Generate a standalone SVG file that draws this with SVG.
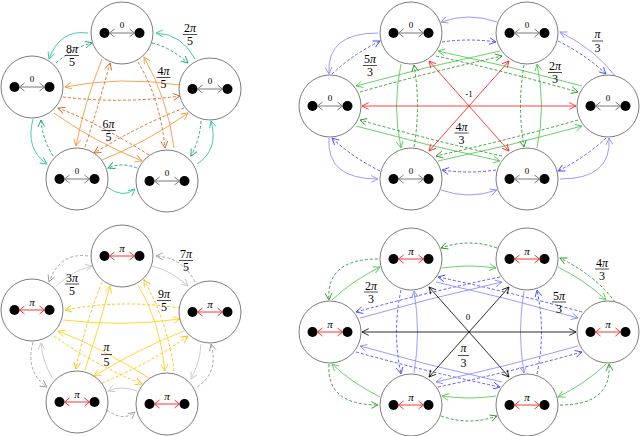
<svg xmlns="http://www.w3.org/2000/svg" width="640" height="436" viewBox="0 0 640 436">
<style>
.nd{fill:#fff;stroke:#6e6e6e;stroke-width:0.9}
.dt{fill:#000}
.ga{fill:none;stroke:#6a6a6a;stroke-width:0.9}
.ra{fill:none;stroke:#ee2020;stroke-width:0.9}
.nz{font-family:"Liberation Serif",serif;font-size:9px;text-anchor:middle;fill:#000}
.np{font-family:"Liberation Serif",serif;font-style:italic;font-size:11px;text-anchor:middle;fill:#000}
.e{fill:none;stroke-width:0.9}
.lab{font-family:"Liberation Serif",serif;font-size:12px;text-anchor:middle;fill:#000}
.it{font-style:italic}
.bar{stroke:#000;stroke-width:0.7;fill:none}
.ts{stroke:#2ec8a6;marker-end:url(#mts)}
.td{stroke:#14a07c;stroke-dasharray:3 2;marker-end:url(#mtd)}
.os{stroke:#fb9a3c;marker-end:url(#mos)}
.od{stroke:#e0621c;stroke-dasharray:3 2;marker-end:url(#mod)}
.bs{stroke:#9090ff;marker-end:url(#mbs)}
.bd{stroke:#4a4aff;stroke-dasharray:3 2;marker-end:url(#mbd)}
.gs{stroke:#5acb5a;marker-end:url(#mgs)}
.gd{stroke:#2a9a2a;stroke-dasharray:3 2;marker-end:url(#mgd)}
.rd{stroke:#ff2a2a;marker-start:url(#mrd);marker-end:url(#mrd)}
.kd{stroke:#151515;marker-start:url(#mkd);marker-end:url(#mkd)}
.ys{stroke:#ffd31c;marker-end:url(#mys)}
.yd{stroke:#f7c100;stroke-dasharray:3 2;marker-end:url(#myd)}
.hs{stroke:#c8c8c8;marker-end:url(#mhs)}
.hd{stroke:#9c9c9c;stroke-dasharray:3 2;marker-end:url(#mhd)}
</style>
<defs>
<marker id="mts" viewBox="0 0 8 8" refX="7.2" refY="4" markerWidth="8" markerHeight="8" markerUnits="userSpaceOnUse" orient="auto-start-reverse"><path d="M0.5,0.6L7.2,4L0.5,7.4" fill="none" stroke="#2ec8a6" stroke-width="0.9"/></marker>
<marker id="mtd" viewBox="0 0 8 8" refX="7.2" refY="4" markerWidth="8" markerHeight="8" markerUnits="userSpaceOnUse" orient="auto-start-reverse"><path d="M0.5,0.6L7.2,4L0.5,7.4" fill="none" stroke="#14a07c" stroke-width="0.9"/></marker>
<marker id="mos" viewBox="0 0 8 8" refX="7.2" refY="4" markerWidth="8" markerHeight="8" markerUnits="userSpaceOnUse" orient="auto-start-reverse"><path d="M0.5,0.6L7.2,4L0.5,7.4" fill="none" stroke="#fb9a3c" stroke-width="0.9"/></marker>
<marker id="mod" viewBox="0 0 8 8" refX="7.2" refY="4" markerWidth="8" markerHeight="8" markerUnits="userSpaceOnUse" orient="auto-start-reverse"><path d="M0.5,0.6L7.2,4L0.5,7.4" fill="none" stroke="#e0621c" stroke-width="0.9"/></marker>
<marker id="mbs" viewBox="0 0 8 8" refX="7.2" refY="4" markerWidth="8" markerHeight="8" markerUnits="userSpaceOnUse" orient="auto-start-reverse"><path d="M0.5,0.6L7.2,4L0.5,7.4" fill="none" stroke="#9090ff" stroke-width="0.9"/></marker>
<marker id="mbd" viewBox="0 0 8 8" refX="7.2" refY="4" markerWidth="8" markerHeight="8" markerUnits="userSpaceOnUse" orient="auto-start-reverse"><path d="M0.5,0.6L7.2,4L0.5,7.4" fill="none" stroke="#4a4aff" stroke-width="0.9"/></marker>
<marker id="mgs" viewBox="0 0 8 8" refX="7.2" refY="4" markerWidth="8" markerHeight="8" markerUnits="userSpaceOnUse" orient="auto-start-reverse"><path d="M0.5,0.6L7.2,4L0.5,7.4" fill="none" stroke="#5acb5a" stroke-width="0.9"/></marker>
<marker id="mgd" viewBox="0 0 8 8" refX="7.2" refY="4" markerWidth="8" markerHeight="8" markerUnits="userSpaceOnUse" orient="auto-start-reverse"><path d="M0.5,0.6L7.2,4L0.5,7.4" fill="none" stroke="#2a9a2a" stroke-width="0.9"/></marker>
<marker id="mrd" viewBox="0 0 8 8" refX="7.2" refY="4" markerWidth="8" markerHeight="8" markerUnits="userSpaceOnUse" orient="auto-start-reverse"><path d="M0.5,0.6L7.2,4L0.5,7.4" fill="none" stroke="#ff2a2a" stroke-width="0.9"/></marker>
<marker id="mkd" viewBox="0 0 8 8" refX="7.2" refY="4" markerWidth="8" markerHeight="8" markerUnits="userSpaceOnUse" orient="auto-start-reverse"><path d="M0.5,0.6L7.2,4L0.5,7.4" fill="none" stroke="#151515" stroke-width="0.9"/></marker>
<marker id="mys" viewBox="0 0 8 8" refX="7.2" refY="4" markerWidth="8" markerHeight="8" markerUnits="userSpaceOnUse" orient="auto-start-reverse"><path d="M0.5,0.6L7.2,4L0.5,7.4" fill="none" stroke="#ffd31c" stroke-width="0.9"/></marker>
<marker id="myd" viewBox="0 0 8 8" refX="7.2" refY="4" markerWidth="8" markerHeight="8" markerUnits="userSpaceOnUse" orient="auto-start-reverse"><path d="M0.5,0.6L7.2,4L0.5,7.4" fill="none" stroke="#f7c100" stroke-width="0.9"/></marker>
<marker id="mhs" viewBox="0 0 8 8" refX="7.2" refY="4" markerWidth="8" markerHeight="8" markerUnits="userSpaceOnUse" orient="auto-start-reverse"><path d="M0.5,0.6L7.2,4L0.5,7.4" fill="none" stroke="#c8c8c8" stroke-width="0.9"/></marker>
<marker id="mhd" viewBox="0 0 8 8" refX="7.2" refY="4" markerWidth="8" markerHeight="8" markerUnits="userSpaceOnUse" orient="auto-start-reverse"><path d="M0.5,0.6L7.2,4L0.5,7.4" fill="none" stroke="#9c9c9c" stroke-width="0.9"/></marker>
</defs>
<rect width="640" height="436" fill="#fff"/>

<g id="connectors">
<g id="p1-edges">
<path class="e ts" d="M195,59 Q182,34 156,33"/>
<path class="e ts" d="M88,33 Q60,29 49,59"/>
<path class="e ts" d="M33,119 Q25,149 47,164"/>
<path class="e ts" d="M107,187 Q123,199 135,189"/>
<path class="e ts" d="M197,164 Q219,150 211,121"/>
<path class="e td" d="M152,43 Q170,47 188,63"/>
<path class="e td" d="M56,63 Q74,47 92,43"/>
<path class="e td" d="M53,156 Q42,138 41,120"/>
<path class="e td" d="M137,168 Q122,162 108,168"/>
<path class="e td" d="M201,121 Q200,139 191,156"/>
<path class="e os" d="M180,85 Q120,76 65,87"/>
<path class="e os" d="M102,59 Q84,104 76,146"/>
<path class="e os" d="M174,148 Q168,100 144,57"/>
<path class="e os" d="M54,113 Q95,142 142,161"/>
<path class="e os" d="M102,160 Q147,142 188,113"/>
<path class="e od" d="M63,97 Q122,104 180,96"/>
<path class="e od" d="M85,147 Q99,104 110,63"/>
<path class="e od" d="M138,62 Q160,98 165,148"/>
<path class="e od" d="M149,155 Q100,124 58,108"/>
<path class="e od" d="M184,108 Q142,124 94,153"/>
</g>
<g id="p3-edges" transform="translate(0,223)">
<path class="e hd" d="M195,59 Q182,34 156,33"/>
<path class="e hd" d="M88,33 Q60,29 49,59"/>
<path class="e hd" d="M33,119 Q25,149 47,164"/>
<path class="e hd" d="M107,187 Q123,199 135,189"/>
<path class="e hd" d="M197,164 Q219,150 211,121"/>
<path class="e hs" d="M152,43 Q170,47 188,63"/>
<path class="e hs" d="M56,63 Q74,47 92,43"/>
<path class="e hs" d="M53,156 Q42,138 41,120"/>
<path class="e hs" d="M137,168 Q122,162 108,168"/>
<path class="e hs" d="M201,121 Q200,139 191,156"/>
<path class="e yd" d="M180,85 Q120,76 65,87"/>
<path class="e yd" d="M102,59 Q84,104 76,146"/>
<path class="e yd" d="M174,148 Q168,100 144,57"/>
<path class="e yd" d="M54,113 Q95,142 142,161"/>
<path class="e yd" d="M102,160 Q147,142 188,113"/>
<path class="e ys" d="M63,97 Q122,104 180,96"/>
<path class="e ys" d="M85,147 Q99,104 110,63"/>
<path class="e ys" d="M138,62 Q160,98 165,148"/>
<path class="e ys" d="M149,155 Q100,124 58,108"/>
<path class="e ys" d="M184,108 Q142,124 94,153"/>
</g>
<g id="p2-edges">
<path class="e bs" d="M497,22 Q469,12 441,22"/>
<path class="e bs" d="M441,190 Q469,200 497,190"/>
<path class="e bs" d="M615,76 Q596,50 560,32"/>
<path class="e bs" d="M378,33 Q326,33 329,74"/>
<path class="e bs" d="M329,138 Q326,179 378,179"/>
<path class="e bs" d="M560,179 Q612,179 609,138"/>
<path class="e bd" d="M442,42 Q469,38 496,42"/>
<path class="e bd" d="M496,170 Q469,174 442,170"/>
<path class="e bd" d="M558,41 Q586,55 606,74"/>
<path class="e bd" d="M332,74 Q352,55 380,41"/>
<path class="e bd" d="M606,138 Q586,157 558,171"/>
<path class="e bd" d="M380,171 Q352,157 332,138"/>
<path class="e gs" d="M401,64 Q392,106 401,148"/>
<path class="e gs" d="M537,148 Q546,106 537,64"/>
<path class="e gs" d="M582,86 Q510,66 438,51"/>
<path class="e gs" d="M500,51 Q428,66 356,86"/>
<path class="e gs" d="M438,161 Q510,146 582,126"/>
<path class="e gs" d="M356,126 Q428,146 500,161"/>
<path class="e gd" d="M414,147 Q421,106 414,65"/>
<path class="e gd" d="M524,65 Q517,106 524,147"/>
<path class="e gd" d="M436,56 Q508,72 578,92"/>
<path class="e gd" d="M360,92 Q430,72 502,56"/>
<path class="e gd" d="M578,120 Q508,140 436,156"/>
<path class="e gd" d="M502,156 Q430,140 360,120"/>
<path class="e rd" d="M362,106 L576,106"/>
<path class="e rd" d="M429,61 L509,151"/>
<path class="e rd" d="M509,61 L429,151"/>
</g>
<g id="p4-edges" transform="translate(0,226)">
<path class="e gd" d="M497,22 Q469,12 441,22"/>
<path class="e gd" d="M441,190 Q469,200 497,190"/>
<path class="e gd" d="M615,76 Q596,50 560,32"/>
<path class="e gd" d="M378,33 Q326,33 329,74"/>
<path class="e gd" d="M329,138 Q326,179 378,179"/>
<path class="e gd" d="M560,179 Q612,179 609,138"/>
<path class="e gs" d="M442,42 Q469,38 496,42"/>
<path class="e gs" d="M496,170 Q469,174 442,170"/>
<path class="e gs" d="M558,41 Q586,55 606,74"/>
<path class="e gs" d="M332,74 Q352,55 380,41"/>
<path class="e gs" d="M606,138 Q586,157 558,171"/>
<path class="e gs" d="M380,171 Q352,157 332,138"/>
<path class="e bd" d="M401,64 Q392,106 401,148"/>
<path class="e bd" d="M537,148 Q546,106 537,64"/>
<path class="e bd" d="M582,86 Q510,66 438,51"/>
<path class="e bd" d="M500,51 Q428,66 356,86"/>
<path class="e bd" d="M438,161 Q510,146 582,126"/>
<path class="e bd" d="M356,126 Q428,146 500,161"/>
<path class="e bs" d="M414,147 Q421,106 414,65"/>
<path class="e bs" d="M524,65 Q517,106 524,147"/>
<path class="e bs" d="M436,56 Q508,72 578,92"/>
<path class="e bs" d="M360,92 Q430,72 502,56"/>
<path class="e bs" d="M578,120 Q508,140 436,156"/>
<path class="e bs" d="M502,156 Q430,140 360,120"/>
<path class="e kd" d="M362,106 L576,106"/>
<path class="e kd" d="M429,61 L509,151"/>
<path class="e kd" d="M509,61 L429,151"/>
</g>
</g>

<g id="p1-n0" transform="translate(122,33)"><circle class="nd" r="31"/><circle class="dt" cx="-17.5" r="5"/><circle class="dt" cx="17.5" r="5"/><path class="ga" d="M-12.5,0H12.5M-7.5,-4L-12.5,0L-7.5,4M7.5,-4L12.5,0L7.5,4"/><text class="nz" y="-5.5">0</text></g>
<g id="p1-n1" transform="translate(210,89)"><circle class="nd" r="31"/><circle class="dt" cx="-17.5" r="5"/><circle class="dt" cx="17.5" r="5"/><path class="ga" d="M-12.5,0H12.5M-7.5,-4L-12.5,0L-7.5,4M7.5,-4L12.5,0L7.5,4"/><text class="nz" y="-5.5">0</text></g>
<g id="p1-n2" transform="translate(167,181)"><circle class="nd" r="31"/><circle class="dt" cx="-17.5" r="5"/><circle class="dt" cx="17.5" r="5"/><path class="ga" d="M-12.5,0H12.5M-7.5,-4L-12.5,0L-7.5,4M7.5,-4L12.5,0L7.5,4"/><text class="nz" y="-5.5">0</text></g>
<g id="p1-n3" transform="translate(77,179)"><circle class="nd" r="31"/><circle class="dt" cx="-17.5" r="5"/><circle class="dt" cx="17.5" r="5"/><path class="ga" d="M-12.5,0H12.5M-7.5,-4L-12.5,0L-7.5,4M7.5,-4L12.5,0L7.5,4"/><text class="nz" y="-5.5">0</text></g>
<g id="p1-n4" transform="translate(32,87)"><circle class="nd" r="31"/><circle class="dt" cx="-17.5" r="5"/><circle class="dt" cx="17.5" r="5"/><path class="ga" d="M-12.5,0H12.5M-7.5,-4L-12.5,0L-7.5,4M7.5,-4L12.5,0L7.5,4"/><text class="nz" y="-5.5">0</text></g>

<g id="p2-n0" transform="translate(411,33)"><circle class="nd" r="31"/><circle class="dt" cx="-17.5" r="5"/><circle class="dt" cx="17.5" r="5"/><path class="ga" d="M-12.5,0H12.5M-7.5,-4L-12.5,0L-7.5,4M7.5,-4L12.5,0L7.5,4"/><text class="nz" y="-5.5">0</text></g>
<g id="p2-n1" transform="translate(527,33)"><circle class="nd" r="31"/><circle class="dt" cx="-17.5" r="5"/><circle class="dt" cx="17.5" r="5"/><path class="ga" d="M-12.5,0H12.5M-7.5,-4L-12.5,0L-7.5,4M7.5,-4L12.5,0L7.5,4"/><text class="nz" y="-5.5">0</text></g>
<g id="p2-n2" transform="translate(608,106)"><circle class="nd" r="31"/><circle class="dt" cx="-17.5" r="5"/><circle class="dt" cx="17.5" r="5"/><path class="ga" d="M-12.5,0H12.5M-7.5,-4L-12.5,0L-7.5,4M7.5,-4L12.5,0L7.5,4"/><text class="nz" y="-5.5">0</text></g>
<g id="p2-n3" transform="translate(527,179)"><circle class="nd" r="31"/><circle class="dt" cx="-17.5" r="5"/><circle class="dt" cx="17.5" r="5"/><path class="ga" d="M-12.5,0H12.5M-7.5,-4L-12.5,0L-7.5,4M7.5,-4L12.5,0L7.5,4"/><text class="nz" y="-5.5">0</text></g>
<g id="p2-n4" transform="translate(411,179)"><circle class="nd" r="31"/><circle class="dt" cx="-17.5" r="5"/><circle class="dt" cx="17.5" r="5"/><path class="ga" d="M-12.5,0H12.5M-7.5,-4L-12.5,0L-7.5,4M7.5,-4L12.5,0L7.5,4"/><text class="nz" y="-5.5">0</text></g>
<g id="p2-n5" transform="translate(330,106)"><circle class="nd" r="31"/><circle class="dt" cx="-17.5" r="5"/><circle class="dt" cx="17.5" r="5"/><path class="ga" d="M-12.5,0H12.5M-7.5,-4L-12.5,0L-7.5,4M7.5,-4L12.5,0L7.5,4"/><text class="nz" y="-5.5">0</text></g>

<g id="p3-n0" transform="translate(122,256)"><circle class="nd" r="31"/><circle class="dt" cx="-17.5" r="5"/><circle class="dt" cx="17.5" r="5"/><path class="ra" d="M-12.5,0H12.5M-7.5,-4L-12.5,0L-7.5,4M7.5,-4L12.5,0L7.5,4"/><text class="np" y="-4">π</text></g>
<g id="p3-n1" transform="translate(210,312)"><circle class="nd" r="31"/><circle class="dt" cx="-17.5" r="5"/><circle class="dt" cx="17.5" r="5"/><path class="ra" d="M-12.5,0H12.5M-7.5,-4L-12.5,0L-7.5,4M7.5,-4L12.5,0L7.5,4"/><text class="np" y="-4">π</text></g>
<g id="p3-n2" transform="translate(167,404)"><circle class="nd" r="31"/><circle class="dt" cx="-17.5" r="5"/><circle class="dt" cx="17.5" r="5"/><path class="ra" d="M-12.5,0H12.5M-7.5,-4L-12.5,0L-7.5,4M7.5,-4L12.5,0L7.5,4"/><text class="np" y="-4">π</text></g>
<g id="p3-n3" transform="translate(77,402)"><circle class="nd" r="31"/><circle class="dt" cx="-17.5" r="5"/><circle class="dt" cx="17.5" r="5"/><path class="ra" d="M-12.5,0H12.5M-7.5,-4L-12.5,0L-7.5,4M7.5,-4L12.5,0L7.5,4"/><text class="np" y="-4">π</text></g>
<g id="p3-n4" transform="translate(32,310)"><circle class="nd" r="31"/><circle class="dt" cx="-17.5" r="5"/><circle class="dt" cx="17.5" r="5"/><path class="ra" d="M-12.5,0H12.5M-7.5,-4L-12.5,0L-7.5,4M7.5,-4L12.5,0L7.5,4"/><text class="np" y="-4">π</text></g>

<g id="p4-n0" transform="translate(411,259)"><circle class="nd" r="31"/><circle class="dt" cx="-17.5" r="5"/><circle class="dt" cx="17.5" r="5"/><path class="ra" d="M-12.5,0H12.5M-7.5,-4L-12.5,0L-7.5,4M7.5,-4L12.5,0L7.5,4"/><text class="np" y="-4">π</text></g>
<g id="p4-n1" transform="translate(527,259)"><circle class="nd" r="31"/><circle class="dt" cx="-17.5" r="5"/><circle class="dt" cx="17.5" r="5"/><path class="ra" d="M-12.5,0H12.5M-7.5,-4L-12.5,0L-7.5,4M7.5,-4L12.5,0L7.5,4"/><text class="np" y="-4">π</text></g>
<g id="p4-n2" transform="translate(608,332)"><circle class="nd" r="31"/><circle class="dt" cx="-17.5" r="5"/><circle class="dt" cx="17.5" r="5"/><path class="ra" d="M-12.5,0H12.5M-7.5,-4L-12.5,0L-7.5,4M7.5,-4L12.5,0L7.5,4"/><text class="np" y="-4">π</text></g>
<g id="p4-n3" transform="translate(527,405)"><circle class="nd" r="31"/><circle class="dt" cx="-17.5" r="5"/><circle class="dt" cx="17.5" r="5"/><path class="ra" d="M-12.5,0H12.5M-7.5,-4L-12.5,0L-7.5,4M7.5,-4L12.5,0L7.5,4"/><text class="np" y="-4">π</text></g>
<g id="p4-n4" transform="translate(411,405)"><circle class="nd" r="31"/><circle class="dt" cx="-17.5" r="5"/><circle class="dt" cx="17.5" r="5"/><path class="ra" d="M-12.5,0H12.5M-7.5,-4L-12.5,0L-7.5,4M7.5,-4L12.5,0L7.5,4"/><text class="np" y="-4">π</text></g>
<g id="p4-n5" transform="translate(330,332)"><circle class="nd" r="31"/><circle class="dt" cx="-17.5" r="5"/><circle class="dt" cx="17.5" r="5"/><path class="ra" d="M-12.5,0H12.5M-7.5,-4L-12.5,0L-7.5,4M7.5,-4L12.5,0L7.5,4"/><text class="np" y="-4">π</text></g>

<g id="labels" class="lab">
<text x="190" y="32">2<tspan class="it">π</tspan></text><path class="bar" d="M183,34.5H197"/><text x="190" y="45">5</text>
<text x="72" y="53">8<tspan class="it">π</tspan></text><path class="bar" d="M65,55.5H79"/><text x="72" y="66">5</text>
<text x="163.5" y="75">4<tspan class="it">π</tspan></text><path class="bar" d="M156.5,77.5H170.5"/><text x="163.5" y="88">5</text>
<text x="108.5" y="128">6<tspan class="it">π</tspan></text><path class="bar" d="M101.5,130.5H115.5"/><text x="108.5" y="141">5</text>

<text x="370" y="63">5<tspan class="it">π</tspan></text><path class="bar" d="M363,65.5H377"/><text x="370" y="76">3</text>
<text x="597.5" y="37.5" class="it">π</text><path class="bar" d="M592,41H603"/><text x="597.5" y="52">3</text>
<text x="555" y="70">2<tspan class="it">π</tspan></text><path class="bar" d="M548,72.5H562"/><text x="555" y="83">3</text>
<text x="461.5" y="130.5">4<tspan class="it">π</tspan></text><path class="bar" d="M454.5,133H468.5"/><text x="461.5" y="143.5">3</text>
<text x="469" y="96.5" font-size="9">-1</text>

<text x="72" y="281.5">3<tspan class="it">π</tspan></text><path class="bar" d="M65,284H79"/><text x="72" y="294.5">5</text>
<text x="186" y="258">7<tspan class="it">π</tspan></text><path class="bar" d="M179,260.5H193"/><text x="186" y="271">5</text>
<text x="164" y="298">9<tspan class="it">π</tspan></text><path class="bar" d="M157,300.5H171"/><text x="164" y="311">5</text>
<text x="106.5" y="351" class="it">π</text><path class="bar" d="M101,354.5H112"/><text x="106.5" y="365.5">5</text>

<text x="371" y="289.5">2<tspan class="it">π</tspan></text><path class="bar" d="M364,292H378"/><text x="371" y="302.5">3</text>
<text x="602" y="266.5">4<tspan class="it">π</tspan></text><path class="bar" d="M595,269H609"/><text x="602" y="279.5">3</text>
<text x="559" y="299.5">5<tspan class="it">π</tspan></text><path class="bar" d="M552,302H566"/><text x="559" y="312.5">3</text>
<text x="463.5" y="352" class="it">π</text><path class="bar" d="M458,355.5H469"/><text x="463.5" y="366.5">3</text>
<text x="468" y="320" font-size="9">0</text>
</g>
</svg>
